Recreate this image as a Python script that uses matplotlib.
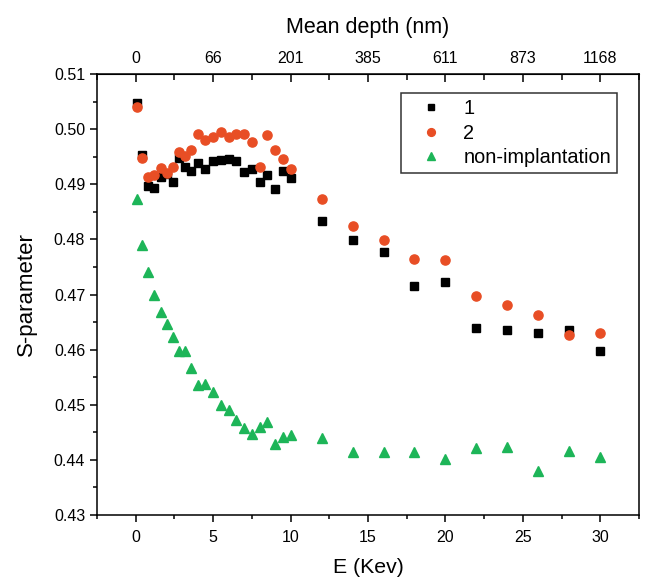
import matplotlib
matplotlib.use("Agg")
import matplotlib.pyplot as plt
from matplotlib.ticker import MultipleLocator, FixedLocator, FixedFormatter

plt.rcParams['font.family'] = ['Liberation Sans', 'DejaVu Sans']

energy = [0.1, 0.4, 0.8, 1.2, 1.6, 2.0, 2.4, 2.8, 3.2, 3.6, 4.0, 4.5, 5.0, 5.5, 6.0,
          6.5, 7.0, 7.5, 8.0, 8.5, 9.0, 9.5, 10, 12, 14, 16, 18, 20, 22, 24, 26, 28, 30]

s_1 = [0.5047, 0.4953, 0.4896, 0.4894, 0.4913, 0.4918, 0.4905, 0.4948, 0.4931, 0.4924,
       0.4939, 0.4928, 0.4943, 0.4944, 0.4946, 0.4943, 0.4923, 0.4928, 0.4904, 0.4916,
       0.4891, 0.4924, 0.4911, 0.4833, 0.4799, 0.4778, 0.4716, 0.4722, 0.4639, 0.4635,
       0.4631, 0.4636, 0.4598]

s_2 = [0.5040, 0.4948, 0.4913, 0.4916, 0.4930, 0.4920, 0.4932, 0.4958, 0.4952, 0.4963,
       0.4991, 0.4980, 0.4986, 0.4995, 0.4985, 0.4991, 0.4991, 0.4977, 0.4932, 0.4989,
       0.4962, 0.4946, 0.4927, 0.4873, 0.4824, 0.4798, 0.4764, 0.4763, 0.4698, 0.4681,
       0.4663, 0.4626, 0.4631]

s_non = [0.4873, 0.4790, 0.4741, 0.4699, 0.4668, 0.4647, 0.4623, 0.4597, 0.4598, 0.4566,
         0.4535, 0.4537, 0.4523, 0.4500, 0.4490, 0.4472, 0.4458, 0.4447, 0.4460, 0.4469,
         0.4429, 0.4441, 0.4445, 0.4439, 0.4414, 0.4414, 0.4414, 0.4402, 0.4422, 0.4424,
         0.4379, 0.4417, 0.4405]

top_tick_energy = [0, 5, 10, 15, 20, 25, 30]
top_tick_labels = ['0', '66', '201', '385', '611', '873', '1168']

fig = plt.figure(figsize=(6.49, 5.81), dpi=100)
ax = fig.add_axes([0.1495, 0.1136, 0.8351, 0.759])

ax.plot(energy, s_1, linestyle='none', marker='s', ms=5.8, color='black', label='1', zorder=3)
ax.plot(energy, s_2, linestyle='none', marker='o', ms=6.6, color='#E84E25', label='2', zorder=4)
ax.plot(energy, s_non, linestyle='none', marker='^', ms=7.2, color='#1DB558', label='non-implantation', zorder=3)

ax.set_xlim(-2.5, 32.5)
ax.set_ylim(0.43, 0.51)
ax.xaxis.set_major_locator(MultipleLocator(5))
ax.xaxis.set_minor_locator(MultipleLocator(2.5))
ax.yaxis.set_major_locator(MultipleLocator(0.01))
ax.yaxis.set_minor_locator(MultipleLocator(0.005))
ax.yaxis.set_major_formatter(matplotlib.ticker.FormatStrFormatter('%.2f'))

ax.tick_params(axis='both', which='major', direction='out', length=5, width=1.1, labelsize=11.5)
ax.tick_params(axis='x', which='major', pad=5.5)
ax.tick_params(axis='both', which='minor', direction='out', length=3, width=1.1)
ax.tick_params(top=False, right=False, which='both')
for sp in ax.spines.values():
    sp.set_linewidth(1.1)

ax.set_xlabel('E (Kev)', fontsize=15.3, labelpad=10)
ax.set_ylabel('S-parameter', fontsize=16, labelpad=12)

sec = ax.secondary_xaxis('top')
sec.xaxis.set_major_locator(FixedLocator(top_tick_energy))
sec.xaxis.set_major_formatter(FixedFormatter(top_tick_labels))
sec.xaxis.set_minor_locator(MultipleLocator(2.5))
sec.tick_params(which='major', direction='in', length=6, width=1.1, labelsize=11.5, pad=6)
sec.tick_params(which='minor', direction='in', length=4, width=1.1)
sec.set_xlabel('Mean depth (nm)', fontsize=15.5, labelpad=13)

leg = ax.legend(loc='upper right', bbox_to_anchor=(1 - 0.0406, 1 - 0.043), fontsize=14.3,
                frameon=True, fancybox=False, edgecolor='black', borderpad=0.3,
                handletextpad=0.45, labelspacing=0.28, handlelength=2.4, borderaxespad=0.0,
                markerscale=0.85)
leg.get_frame().set_linewidth(1.1)

fig.savefig('out.png', dpi=100)
